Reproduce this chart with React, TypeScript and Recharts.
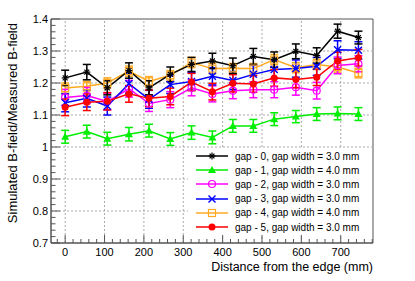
import {
  ErrorBar,
  Line,
  LineChart,
  ReferenceArea,
  ReferenceLine,
  XAxis,
  YAxis,
} from "recharts";

const distance = [0, 55, 107, 162, 213, 267, 321, 374, 426, 478, 531, 586, 639, 692, 745];

const gap0 = [1.216, 1.234, 1.185, 1.239, 1.185, 1.227, 1.258, 1.269, 1.254, 1.283, 1.273, 1.299, 1.286, 1.362, 1.342];
const gap1 = [1.032, 1.048, 1.026, 1.04, 1.051, 1.025, 1.045, 1.03, 1.066, 1.066, 1.087, 1.095, 1.103, 1.105, 1.103];
const gap2 = [1.155, 1.161, 1.142, 1.182, 1.136, 1.148, 1.185, 1.166, 1.176, 1.179, 1.179, 1.187, 1.176, 1.255, 1.26];
const gap3 = [1.138, 1.152, 1.128, 1.198, 1.149, 1.195, 1.205, 1.221, 1.208, 1.227, 1.242, 1.245, 1.252, 1.304, 1.302];
const gap4 = [1.184, 1.19, 1.2, 1.237, 1.205, 1.224, 1.264, 1.245, 1.246, 1.245, 1.273, 1.248, 1.258, 1.25, 1.231];
const gap5 = [1.124, 1.14, 1.143, 1.166, 1.152, 1.158, 1.203, 1.173, 1.199, 1.197, 1.216, 1.211, 1.218, 1.269, 1.279];

const gap0Err = [0.024, 0.024, 0.022, 0.024, 0.022, 0.023, 0.022, 0.024, 0.024, 0.025, 0.024, 0.023, 0.024, 0.022, 0.02];
const gap1Err = [0.02, 0.02, 0.02, 0.021, 0.02, 0.02, 0.021, 0.02, 0.02, 0.02, 0.02, 0.019, 0.02, 0.02, 0.02];
const gap2Err = [0.025, 0.025, 0.026, 0.026, 0.025, 0.025, 0.025, 0.025, 0.025, 0.025, 0.025, 0.025, 0.026, 0.026, 0.025];
const gap3Err = [0.028, 0.027, 0.028, 0.03, 0.028, 0.028, 0.028, 0.027, 0.028, 0.028, 0.028, 0.027, 0.028, 0.028, 0.027];
const gap4Err = [0.016, 0.015, 0.016, 0.016, 0.015, 0.015, 0.016, 0.016, 0.015, 0.016, 0.016, 0.016, 0.016, 0.016, 0.015];
const gap5Err = [0.026, 0.026, 0.027, 0.026, 0.026, 0.026, 0.027, 0.026, 0.027, 0.026, 0.026, 0.026, 0.026, 0.027, 0.026];

const xMajorTicks = [0, 100, 200, 300, 400, 500, 600, 700];
const yMajorTicks = [0.7, 0.8, 0.9, 1, 1.1, 1.2, 1.3, 1.4];

const xMinorTicks = Array.from({ length: 41 }, (_, i) => -20 + i * 20);
const yMinorTicks = Array.from({ length: 36 }, (_, i) => Math.round((0.7 + i * 0.02) * 100) / 100);

const series = [
  { key: "g0", err: "e0", values: gap0, errors: gap0Err, color: "#000000", marker: "star", label: "gap - 0, gap width = 3.0 mm" },
  { key: "g1", err: "e1", values: gap1, errors: gap1Err, color: "#00ee00", marker: "triangle", label: "gap - 1, gap width = 4.0 mm" },
  { key: "g2", err: "e2", values: gap2, errors: gap2Err, color: "#ff00ff", marker: "openCircle", label: "gap - 2, gap width = 3.0 mm" },
  { key: "g3", err: "e3", values: gap3, errors: gap3Err, color: "#0000ff", marker: "cross", label: "gap - 3, gap width = 3.0 mm" },
  { key: "g4", err: "e4", values: gap4, errors: gap4Err, color: "#ffaa22", marker: "openSquare", label: "gap - 4, gap width = 4.0 mm" },
  { key: "g5", err: "e5", values: gap5, errors: gap5Err, color: "#ff0000", marker: "circle", label: "gap - 5, gap width = 3.0 mm" },
];

const data = distance.map((x, i) => {
  const row: Record<string, number> = { x };
  series.forEach((s) => {
    row[s.key] = s.values[i];
    row[s.err] = s.errors[i];
  });
  return row;
});

const FONT = '"Liberation Sans", Arial, Helvetica, sans-serif';
const AXIS_COLOR = "#555";

function Marker({ cx, cy, type, color }: { cx: number; cy: number; type: string; color: string }) {
  const r = 3.5;
  switch (type) {
    case "star":
      return (
        <g stroke={color} strokeWidth={1.2}>
          <line x1={cx - r} y1={cy} x2={cx + r} y2={cy} />
          <line x1={cx} y1={cy - r} x2={cx} y2={cy + r} />
          <line x1={cx - r * 0.7} y1={cy - r * 0.7} x2={cx + r * 0.7} y2={cy + r * 0.7} />
          <line x1={cx - r * 0.7} y1={cy + r * 0.7} x2={cx + r * 0.7} y2={cy - r * 0.7} />
        </g>
      );
    case "triangle":
      return <polygon points={`${cx},${cy - 4} ${cx - 4},${cy + 3} ${cx + 4},${cy + 3}`} fill={color} />;
    case "openCircle":
      return <circle cx={cx} cy={cy} r={r} fill="none" stroke={color} strokeWidth={1.2} />;
    case "cross":
      return (
        <g stroke={color} strokeWidth={1.4}>
          <line x1={cx - r} y1={cy - r} x2={cx + r} y2={cy + r} />
          <line x1={cx - r} y1={cy + r} x2={cx + r} y2={cy - r} />
        </g>
      );
    case "openSquare":
      return <rect x={cx - r} y={cy - r} width={r * 2} height={r * 2} fill="none" stroke={color} strokeWidth={1.2} />;
    default:
      return <circle cx={cx} cy={cy} r={r} fill={color} />;
  }
}

function XTick(props: any) {
  const { x, y, payload } = props;
  const v = payload.value;
  const major = xMajorTicks.includes(v);
  const mid = v % 100 === 0;
  const len = major || mid ? 8 : 4;
  return (
    <g>
      <line x1={x} y1={y} x2={x} y2={y - len} stroke={AXIS_COLOR} />
      {major && (
        <text x={x} y={y + 13} textAnchor="middle" fontSize={11} fontFamily={FONT} fill="#000">
          {v}
        </text>
      )}
    </g>
  );
}

function YTick(props: any) {
  const { x, y, payload } = props;
  const v = payload.value;
  const major = yMajorTicks.some((t) => Math.abs(t - v) < 1e-6);
  const len = major ? 9 : 4.5;
  return (
    <g>
      <line x1={x} y1={y} x2={x + len} y2={y} stroke={AXIS_COLOR} />
      {major && (
        <text x={x - 3} y={y + 4} textAnchor="end" fontSize={11} fontFamily={FONT} fill="#000">
          {String(Number(v.toFixed(1)))}
        </text>
      )}
    </g>
  );
}

function YTitle(props: any) {
  const vb = props.viewBox;
  const x = 12;
  const y = vb.y + 4;
  return (
    <text
      x={x}
      y={y}
      transform={`rotate(-90, ${x}, ${y})`}
      textAnchor="end"
      dominantBaseline="central"
      fontSize={13}
      fontFamily={FONT}
      fill="#000"
    >
      Simulated B-field/Measured B-field
    </text>
  );
}

function XTitle(props: any) {
  const vb = props.viewBox;
  return (
    <text x={vb.x + vb.width} y={vb.y + 28} textAnchor="end" fontSize={12.5} fontFamily={FONT} fill="#000">
      Distance from the edge (mm)
    </text>
  );
}

function LegendBox() {
  return (
    <div
      style={{
        position: "absolute",
        left: 188,
        top: 149,
        width: 184,
        height: 86,
        background: "#fff",
        fontFamily: FONT,
        fontSize: 10,
      }}
    >
      {series.map((s) => (
        <div key={s.key} style={{ height: 14.2, display: "flex", alignItems: "center", whiteSpace: "nowrap" }}>
          <svg width={47} height={14} style={{ flex: "none" }}>
            <line x1={8} y1={7} x2={40} y2={7} stroke={s.color} strokeWidth={1.5} />
            <Marker cx={24} cy={7} type={s.marker} color={s.color} />
          </svg>
          <span>{s.label}</span>
        </div>
      ))}
    </div>
  );
}

export default function App() {
  const drawOrder = [series[1], series[4], series[2], series[3], series[5], series[0]];
  return (
    <div style={{ position: "absolute", left: 0, top: 0, width: 415, height: 281, background: "#fff" }}>
      <LineChart width={415} height={281} data={data} margin={{ top: 19, right: 42, bottom: 0, left: 0 }}>
        <XAxis
          type="number"
          dataKey="x"
          domain={[-36, 782]}
          ticks={xMinorTicks}
          interval={0}
          tickSize={0}
          tickMargin={0}
          tick={<XTick />}
          tickLine={false}
          height={38}
          stroke={AXIS_COLOR}
          allowDataOverflow
          label={<XTitle />}
        />
        <YAxis
          type="number"
          domain={[0.7, 1.4]}
          ticks={yMinorTicks}
          interval={0}
          tickSize={0}
          tickMargin={0}
          tick={<YTick />}
          tickLine={false}
          width={51}
          stroke={AXIS_COLOR}
          allowDataOverflow
          label={<YTitle />}
        />
        {xMajorTicks.map((t) => (
          <ReferenceLine key={`vx${t}`} x={t} stroke="#aaa" strokeDasharray="2 2" />
        ))}
        {yMajorTicks.slice(1, -1).map((t) => (
          <ReferenceLine key={`hy${t}`} y={t} stroke="#aaa" strokeDasharray="2 2" />
        ))}
        <ReferenceArea x1={-36} x2={782} y1={0.7} y2={1.4} fill="none" stroke={AXIS_COLOR} strokeWidth={1} />
        {drawOrder.map((s) => (
          <Line
            key={s.key}
            type="linear"
            dataKey={s.key}
            stroke={s.color}
            strokeWidth={1.5}
            isAnimationActive={false}
            dot={(p: any) => <Marker key={`${s.key}-${p.index}`} cx={p.cx} cy={p.cy} type={s.marker} color={s.color} />}
            activeDot={false}
          >
            <ErrorBar dataKey={s.err} width={4} stroke={s.color} strokeWidth={1.5} direction="y" isAnimationActive={false} />
          </Line>
        ))}
      </LineChart>
      <LegendBox />
    </div>
  );
}
